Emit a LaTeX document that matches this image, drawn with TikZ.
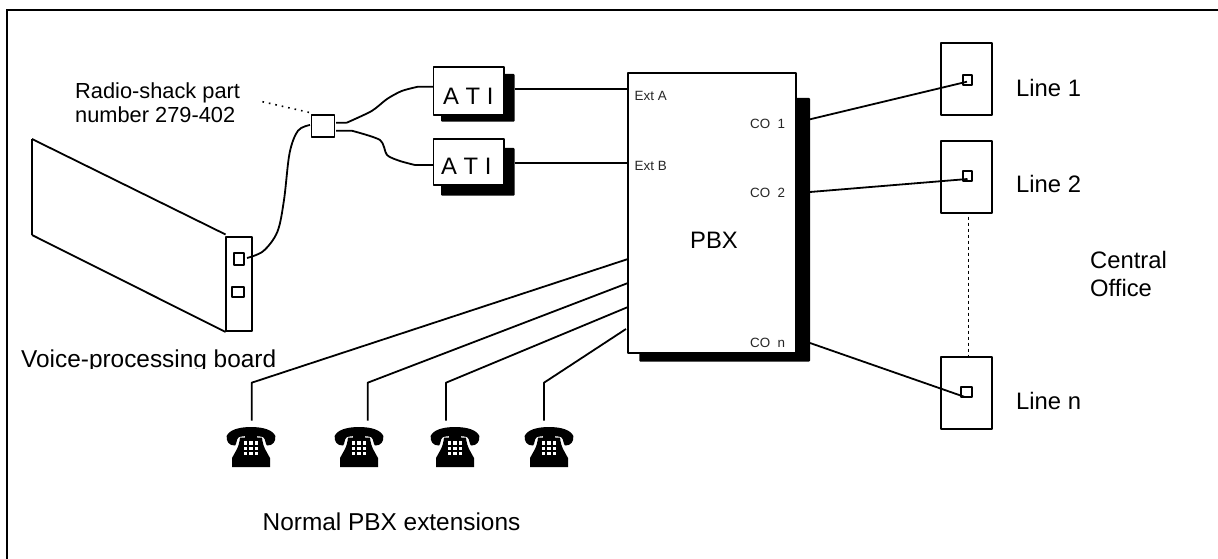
\documentclass[tikz,border=0pt]{standalone}
\usepackage{fontspec}
\setmainfont{Liberation Sans}
\tikzset{
  wire/.style={line width=1.8pt,line join=round},
  box/.style={draw,line width=1.9pt,fill=white,inner sep=0pt,outer sep=0pt,line join=round},
  shadowfill/.style={fill,rounded corners=1pt},
  lbl/.style={inner sep=0pt,anchor=base west,font=\fontsize{23.8}{24}\selectfont},
  biglbl/.style={inner sep=0pt,anchor=base west,font=\fontsize{24.4}{25}\selectfont},
  midl/.style={inner sep=0pt,anchor=base west,font=\fontsize{21.8}{22}\selectfont},
  tiny/.style={inner sep=0pt,anchor=base west,font=\fontsize{13.4}{14}\selectfont,text=black!85},
  pics/phone/.style={code={
    % origin: top centre of handset
    \fill (-24.3,9) .. controls (-22,3) and (-12,0) .. (0,0) .. controls (12,0) and (22,3) .. (24.3,9)
      .. controls (25,14) and (22,19) .. (16,18.5) .. controls (14,17) and (15,12) .. (12,10)
      .. controls (5,8.5) and (-5,8.5) .. (-12,10)
      .. controls (-15,12) and (-14,17) .. (-16,18.5)
      .. controls (-22,19) and (-25,14) .. (-24.3,9) -- cycle;
    \fill (-19,40) -- (-19,31) .. controls (-16,25) and (-12,21) .. (-11,10.5) -- (-6,10.5) -- (-6,8.5) -- (6,8.5) -- (6,10.5) -- (11,10.5)
      .. controls (12,21) and (16,25) .. (19,31) -- (19,40) -- cycle;
    \foreach \a in {-5.3,0,5.3} \foreach \b in {16,21.3,26.6} \fill[white] (\a-1.6,\b-1.6) rectangle (\a+1.6,\b+1.6);
  }}
}
\begin{document}
\begin{tikzpicture}[x=1pt,y=-1pt]
\useasboundingbox (0,0) rectangle (1218,559);
\fill[white] (0,0) rectangle (1218,559);
\draw[line width=2pt] (7,559) -- (7,10) -- (1218,10);
% board
\coordinate (bTL) at (32,139); \coordinate (bBL) at (32,235);
\draw[wire] (bTL) -- (bBL);
\draw[wire] (bTL) -- (225.6,234.5);
\draw[wire] (bBL) -- (225.6,332);
\node[box,minimum width=26pt,minimum height=94pt] (face) at (239,283.7) {};
\node[box,minimum width=10pt,minimum height=12pt] (port1) at (238.8,259) {};
\node[box,minimum width=12pt,minimum height=10pt] (port2) at (238,291.8) {};
\node[midl] (rs1) at (75,99) {Radio-shack part};
\node[midl] (rs2) at (75,122.7) {number 279-402};
\begin{scope}
\clip (0,300) rectangle (300,368.5);
\node[biglbl] (vp) at (21,367) {Voice-processing board};
\end{scope}
% splitter
\node[box,minimum width=23pt,minimum height=22pt] (split) at (323,126) {};
\coordinate (dotend) at (262.4,101.7);
\draw[line width=1.6pt,dash pattern=on 1.6pt off 5pt] (dotend) -- (311.6,113);
% ATIs
\fill[shadowfill] (441,74) rectangle (514.7,121.7);
\fill[shadowfill] (441,148) rectangle (514.7,195.7);
\node[box,minimum width=70.5pt,minimum height=48pt] (ati1) at (468.75,91) {};
\node[box,minimum width=70.5pt,minimum height=46pt] (ati2) at (468.75,162) {};
\node[lbl] at (443,105) {A T I};
\node[lbl] at (441,175) {A T I};
% cables
\draw[wire] plot[smooth,tension=.55] coordinates {(247,258) (263.4,251) (277.4,231.7) (284,200) (289.6,153) (298,130.7) (310,125)};
\draw[wire] (336,122.7) -- (346.7,122.7) plot[smooth,tension=.45] coordinates {(346.7,122.7) (371.7,111) (387,99) (401.7,91) (418,86.7)} -- (ati1.west |- 0,86.7);
\draw[wire] (336,130.7) -- (351.7,130.7) plot[smooth,tension=.45] coordinates {(351.7,130.7) (380,140) (387,155) (400,161) (415,165)} -- (ati2.west |- 0,165);
% PBX
\fill[shadowfill] (639.4,98) rectangle (810,361.7);
\node[box,minimum width=167.4pt,minimum height=280pt] (pbx) at (712,212.7) {};
\node[inner sep=0pt,anchor=base,font=\fontsize{23.8}{24}\selectfont] (pbxl) at (714,248) {PBX};
\node[tiny] at (634.5,101) {Ext A};
\node[tiny] at (634.5,171) {Ext B};
\node[tiny] at (750,129) {CO\ \ 1};
\node[tiny] at (750,197) {CO\ \ 2};
\node[tiny] at (750,347) {CO\ \ n};
\draw[wire] (514.7,89) -- (pbx.west |- 0,89);
\draw[wire] (514.7,163) -- (pbx.west |- 0,163);
% Lines
\node[box,minimum width=50.4pt,minimum height=72.3pt] (l1) at (966.5,78.8) {};
\node[box,minimum width=50.4pt,minimum height=72.3pt] (l2) at (966.5,176.8) {};
\node[box,minimum width=50.4pt,minimum height=71.7pt] (l3) at (966.5,392.8) {};
\node[box,fill=none,minimum width=8.3pt,minimum height=10.3pt] (j1) at (967.5,79.8) {};
\node[box,fill=none,minimum width=8.3pt,minimum height=10.3pt] (j2) at (967.5,176.2) {};
\node[box,fill=none,minimum width=10.3pt,minimum height=10.3pt] (j3) at (966.5,391.8) {};
\draw[wire] (810,119.3) -- (967,81.7);
\draw[wire] (810,192) -- (967.5,179);
\draw[wire] (810,343) -- (964,396.7);
\draw[dash pattern=on 3pt off 3pt,line width=.8pt] (968,216.7) -- (968,357);
\node[lbl] at (1016,96.7) {Line 1};
\node[lbl] at (1016,192.7) {Line 2};
\node[lbl] at (1016,409) {Line n};
\node[lbl] at (1090,268) {Central};
\node[lbl] at (1090,296) {Office};
% phones
\foreach \n/\lx/\cx/\ty/\tx in {a/251.7/251/259/628,b/367.7/359/283/628,c/446/455/307/628,d/544/549/329/626}{
  \pic at (\cx,427) {phone};
  \coordinate (p\n) at (\lx,420.7);
  \draw[wire] (p\n) -- (\lx,382.7) -- (\tx,\ty);
}
\node[biglbl] (ext) at (262.5,530.7) {Normal PBX extensions};
\end{tikzpicture}
\end{document}
